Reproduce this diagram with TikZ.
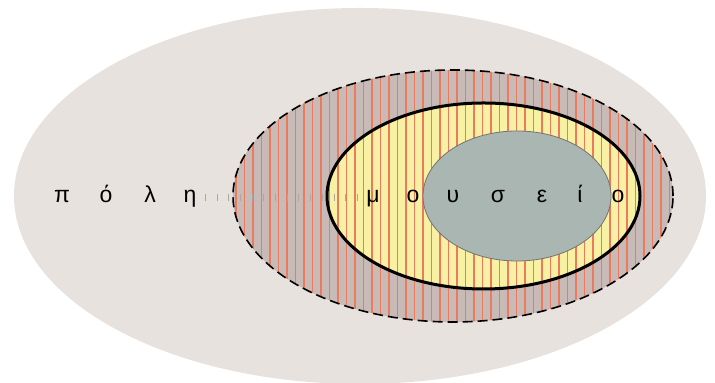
\documentclass[tikz,border=0pt]{standalone}
\usepackage{fontspec}
\newfontfamily\greekfont{Liberation Sans}
\usepackage{tikz}

\definecolor{cityfill}{RGB}{232,226,222}
\definecolor{ringfill}{RGB}{200,187,183}
\definecolor{corefill}{RGB}{248,240,162}
\definecolor{hatchline}{RGB}{236,122,92}
\definecolor{hallfill}{RGB}{170,182,178}
\definecolor{tickgray}{RGB}{172,166,163}

\begin{document}
\begin{tikzpicture}[
    x=0.5pt, y=0.5pt,
    letter/.style={anchor=base,inner sep=0pt,text height=8pt,text depth=2.5pt,
                   font=\greekfont\fontsize{11.5}{13}\selectfont},
    ringline/.style={draw=black,line width=0.8pt,dash pattern=on 5pt off 2.5pt},
    coreline/.style={draw=black,line width=1.5pt},
    hallline/.style={draw=black!55,line width=0.4pt,fill=hallfill},
    ticks/.style={tickgray,line width=3.5pt,dash pattern=on 0.5pt off 5.35pt},
  ]
  \useasboundingbox (0,0) rectangle (715,383);

  % outer city area
  \fill[cityfill] (360,187) ellipse [x radius=346, y radius=188];

  % hatched ring and yellow core
  \fill[ringfill] (453,187) ellipse [x radius=220, y radius=126];
  \fill[corefill] (483.5,187) ellipse [x radius=156.5, y radius=93];
  \begin{scope}
    \clip (453,187) ellipse [x radius=220, y radius=126];
    \foreach \x in {236,244.5,...,676}
      \draw[hatchline,line width=0.6pt] (\x,55) -- (\x,320);
  \end{scope}

  % inner hall
  \path[hallline] (517,187) ellipse [x radius=94, y radius=65];

  % borders
  \draw[coreline] (483.5,187) ellipse [x radius=156.5, y radius=93];
  \draw[ringline] (453,187) ellipse [x radius=220, y radius=126];

  % --- letters ---
  \node[letter] (pi)      at (62,180)  {π};
  \node[letter] (omicron) at (106,180) {ό};
  \node[letter] (lambda)  at (150,180) {λ};
  \node[letter] (eta)     at (190,180) {η};

  \node[letter] (mu)      at (373,180) {μ};
  \node[letter] (oa)      at (413,180) {ο};
  \node[letter] (upsilon) at (453,180) {υ};
  \node[letter] (sigma)   at (498,180) {σ};
  \node[letter] (epsilon) at (542,180) {ε};
  \node[letter] (iota)    at (580,180) {ί};
  \node[letter] (ob)      at (618,180) {ο};

  % dotted link between the two words
  \draw[ticks,shorten <=4pt,shorten >=2pt] (eta.east) -- (mu.west);

\end{tikzpicture}
\end{document}
